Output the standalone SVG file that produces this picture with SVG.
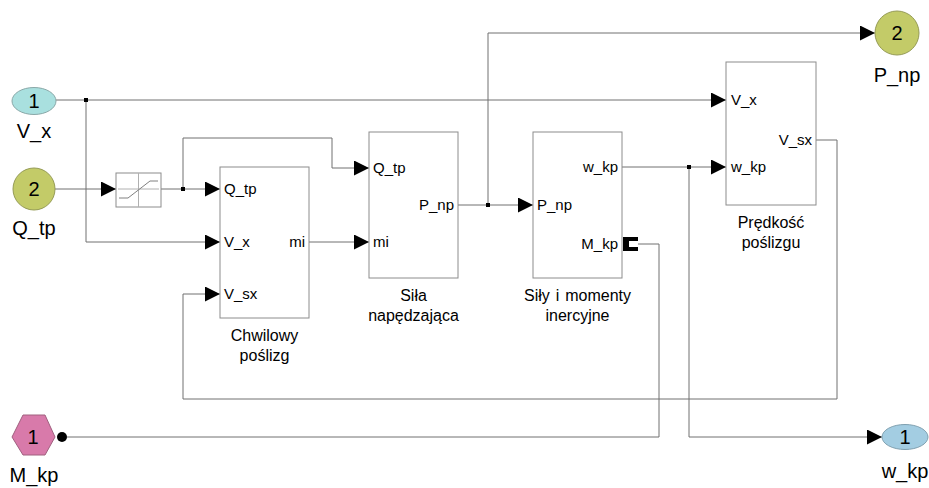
<svg xmlns="http://www.w3.org/2000/svg" width="929" height="488" viewBox="0 0 929 488">
<style>
text{font-family:"Liberation Sans",Arial,sans-serif;fill:#000}
.blk{fill:#fff;stroke:#8c8c8c;stroke-width:1}
.ln{fill:none;stroke:#707070;stroke-width:1}
.port{font-size:15px}
.lbl{font-size:16px;text-anchor:middle}
.io{font-size:20px;text-anchor:middle}
.jn{fill:#000}
</style>
<defs>
<marker id="arr" markerUnits="userSpaceOnUse" markerWidth="16" markerHeight="16" refX="15" refY="7.5" orient="auto">
<path d="M0,0 L15,7.5 L0,15 Z" fill="#000"/>
</marker>
</defs>
<rect width="929" height="488" fill="#fff"/>

<g id="connectors">
<path class="ln" d="M56,100 H726" marker-end="url(#arr)"/>
<path class="ln" d="M86,100 V242 H220" marker-end="url(#arr)"/>
<path class="ln" d="M55,189 H116" marker-end="url(#arr)"/>
<path class="ln" d="M161,189 H220" marker-end="url(#arr)"/>
<path class="ln" d="M183,189 V138 H332 V168 H369" marker-end="url(#arr)"/>
<path class="ln" d="M309,242 H369" marker-end="url(#arr)"/>
<path class="ln" d="M458,205 H533" marker-end="url(#arr)"/>
<path class="ln" d="M488,205 V33 H875" marker-end="url(#arr)"/>
<path class="ln" d="M622,167 H726" marker-end="url(#arr)"/>
<path class="ln" d="M689,167 V437 H882" marker-end="url(#arr)"/>
<path class="ln" d="M816,140 H837 V399 H183 V294 H220" marker-end="url(#arr)"/>
<path class="ln" d="M67,437 H659 V244 H638"/>
<rect class="jn" x="84" y="98" width="4" height="4"/>
<rect class="jn" x="181" y="187" width="4" height="4"/>
<rect class="jn" x="486" y="203" width="4" height="4"/>
<rect class="jn" x="687" y="165" width="4" height="4"/>
</g>

<g id="in_Vx">
<ellipse cx="34" cy="101" rx="22" ry="13.5" fill="#a9e0df" stroke="#8aa8a8"/>
<text class="io" x="34" y="108">1</text>
<text class="io" x="34" y="138">V_x</text>
</g>

<g id="in_Qtp">
<circle cx="34" cy="189" r="21" fill="#c3cb68" stroke="#959b55"/>
<text class="io" x="34" y="196">2</text>
<text class="io" x="34" y="235">Q_tp</text>
</g>

<g id="in_Mkp">
<polygon points="12,437 23,415 45,415 55,437 45,455 23,455" fill="#d87aaa" stroke="#a0607f"/>
<text class="io" x="33" y="444">1</text>
<circle cx="62" cy="437" r="5" fill="#000"/>
<text class="io" x="34" y="482">M_kp</text>
</g>

<g id="saturation">
<rect class="blk" x="116" y="173" width="45" height="34"/>
<path d="M118,189 H159 M138.5,173 V207" fill="none" stroke="#b0b0b0"/>
<path d="M119,198 H128 L150,181 H158" fill="none" stroke="#808080"/>
</g>

<g id="chwilowy">
<rect class="blk" x="220" y="167" width="89" height="151"/>
<text class="port" x="224" y="194">Q_tp</text>
<text class="port" x="224" y="247">V_x</text>
<text class="port" x="224" y="299">V_sx</text>
<text class="port" x="305" y="247" text-anchor="end">mi</text>
<text class="lbl" x="264.5" y="341">Chwilowy</text>
<text class="lbl" x="264.5" y="361">poślizg</text>
</g>

<g id="sila">
<rect class="blk" x="369" y="132" width="89" height="146"/>
<text class="port" x="373" y="173">Q_tp</text>
<text class="port" x="373" y="247">mi</text>
<text class="port" x="454" y="210" text-anchor="end">P_np</text>
<text class="lbl" x="413.5" y="301">Siła</text>
<text class="lbl" x="413.5" y="321">napędzająca</text>
</g>

<g id="sily">
<rect class="blk" x="533" y="132" width="89" height="146"/>
<text class="port" x="537" y="210">P_np</text>
<text class="port" x="618" y="172" text-anchor="end">w_kp</text>
<text class="port" x="618" y="249" text-anchor="end">M_kp</text>
<path d="M623,237 H638 V241 H629 V247 H638 V251 H623 Z" fill="#000"/>
<text class="lbl" x="577.5" y="301" word-spacing="1.5">Siły i momenty</text>
<text class="lbl" x="577.5" y="321">inercyjne</text>
</g>

<g id="predkosc">
<rect class="blk" x="726" y="62" width="90" height="143"/>
<text class="port" x="731" y="105">V_x</text>
<text class="port" x="731" y="172">w_kp</text>
<text class="port" x="812" y="145" text-anchor="end">V_sx</text>
<text class="lbl" x="771" y="228">Prędkość</text>
<text class="lbl" x="771" y="248">poślizgu</text>
</g>

<g id="out_Pnp">
<circle cx="897" cy="33" r="22" fill="#c3cb68" stroke="#959b55"/>
<text class="io" x="897" y="40">2</text>
<text class="io" x="897" y="82">P_np</text>
</g>

<g id="out_wkp">
<ellipse cx="905" cy="437" rx="23" ry="12.5" fill="#a3cde2" stroke="#7fa0b0"/>
<text class="io" x="905" y="444">1</text>
<text class="io" x="905" y="478">w_kp</text>
</g>
</svg>
